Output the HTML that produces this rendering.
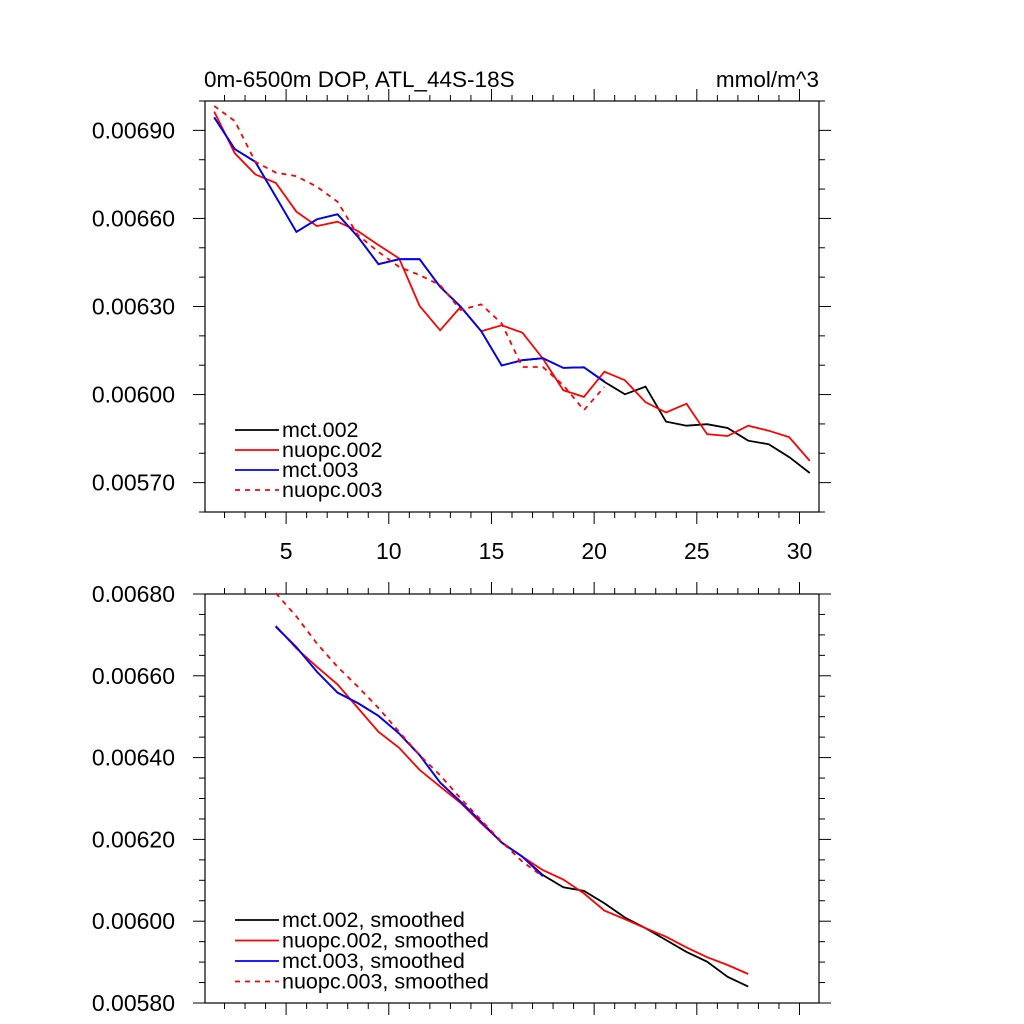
<!DOCTYPE html>
<html><head><meta charset="utf-8"><style>
html,body{margin:0;padding:0;background:#fff;}
svg{display:block;font-family:"Liberation Sans",sans-serif;}
</style></head><body>
<svg id="chart" width="1024" height="1024" viewBox="0 0 1024 1024" xmlns="http://www.w3.org/2000/svg">
<rect width="1024" height="1024" fill="#fff"/>
<text x="204" y="87" font-size="22.5">0m-6500m DOP, ATL_44S-18S</text>
<text x="819" y="87" font-size="22.5" text-anchor="end">mmol/m^3</text>
<g id="top"></g><g id="bot"></g>
</svg>
<script>
// ---- data ----
const xTop = [1.5,2.5,3.5,4.5,5.5,6.5,7.5,8.5,9.5,10.5,11.5,12.5,13.5,14.5,15.5,16.5,17.5,18.5,19.5,20.5,21.5,22.5,23.5,24.5,25.5,26.5,27.5,28.5,29.5,30.5];
const mct003 = [0.006944,0.006836,0.006793,0.006674,0.006554,0.006597,0.006614,0.006537,0.006444,0.006461,0.006461,0.006367,0.006299,0.006216,0.006099,0.006117,0.006124,0.006091,0.006093,0.006045];
const mct002 = [0.006944,0.006836,0.006793,0.006674,0.006554,0.006597,0.006614,0.006537,0.006444,0.006461,0.006461,0.006367,0.006299,0.006216,0.006099,0.006117,0.006124,0.006091,0.006093,0.006043,0.006001,0.006027,0.005908,0.005894,0.005899,0.005886,0.005843,0.005831,0.005787,0.005733];
const nuopc002 = [0.006964,0.006822,0.00675,0.006721,0.006623,0.006574,0.006589,0.006557,0.006509,0.006464,0.006302,0.006219,0.006299,0.006216,0.006236,0.006211,0.006123,0.006015,0.005992,0.006078,0.006049,0.005974,0.005939,0.005969,0.005865,0.005859,0.005894,0.005877,0.005855,0.005774];
const nuopc003 = [0.006983,0.006932,0.006793,0.006756,0.006744,0.006708,0.006657,0.006543,0.006486,0.006435,0.006407,0.006373,0.006288,0.006307,0.006242,0.006094,0.006094,0.006032,0.005947,0.006026];
const xBot = [4.5,5.5,6.5,7.5,8.5,9.5,10.5,11.5,12.5,13.5,14.5,15.5,16.5,17.5,18.5,19.5,20.5,21.5,22.5,23.5,24.5,25.5,26.5,27.5];
const mct003s = [0.00672,0.00667,0.00661,0.006559,0.006533,0.006502,0.006459,0.006406,0.006339,0.006292,0.006243,0.006192,0.006158,0.00611];
const mct002s = [0.00672,0.00667,0.00661,0.006559,0.006533,0.006502,0.006459,0.006406,0.006339,0.006292,0.006243,0.006192,0.006158,0.006113,0.006083,0.006074,0.006044,0.006009,0.005983,0.005954,0.005925,0.005901,0.005864,0.00584];
const nuopc002s = [0.006722,0.006667,0.006622,0.006579,0.006521,0.006463,0.006424,0.00637,0.006329,0.006289,0.006239,0.006193,0.006158,0.006125,0.006102,0.006068,0.006026,0.006005,0.005983,0.005962,0.005936,0.005912,0.005893,0.005871];
const nuopc003s = [0.006802,0.006745,0.006679,0.006622,0.006573,0.006521,0.006463,0.006406,0.006357,0.0063,0.006247,0.006194,0.006146,0.006109];
const xTicks = [5,10,15,20,25,30];
const yTicksTop = [0.0057,0.006,0.0063,0.0066,0.0069];
const yTicksBot = [0.0058,0.006,0.0062,0.0064,0.0066,0.0068];
const legTop = ["mct.002","nuopc.002","mct.003","nuopc.003"];
const legBot = ["mct.002, smoothed","nuopc.002, smoothed","mct.003, smoothed","nuopc.003, smoothed"];

const NS="http://www.w3.org/2000/svg";
function mk(parent,tag,attrs){const e=document.createElementNS(NS,tag);for(const k in attrs)e.setAttribute(k,attrs[k]);parent.appendChild(e);return e;}
const L=205,R=819,X0=1.05,X1=30.95;
const sx=v=>L+(v-X0)/(X1-X0)*(R-L);

function panel(g,T,B,Y0,Y1,yTicks,minorStep,showX,series,leg,legY,legDy){
  const sy=v=>B-(v-Y0)/(Y1-Y0)*(B-T);
  const fr=mk(g,'rect',{x:L,y:T,width:R-L,height:B-T,fill:'none',stroke:'#000','stroke-width':1.2});
  
  for(let v=1;v<=31;v++){const x=sx(v);if(x<L-0.5||x>R+0.5)continue;const maj=v%5===0,len=maj?12:6;
    mk(g,'line',{x1:x,x2:x,y1:B,y2:B+len,stroke:'#000','stroke-width':1});
    mk(g,'line',{x1:x,x2:x,y1:T,y2:T-len,stroke:'#000','stroke-width':1});}
  if(showX) xTicks.forEach(v=>{const t=mk(g,'text',{x:sx(v),y:B+47,'font-size':23,'text-anchor':'middle'});t.textContent=v;
    });
  const n=Math.round((Y1-Y0)/minorStep);
  for(let i=0;i<=n;i++){const v=Y0+i*minorStep;const y=sy(v);const maj=yTicks.some(t=>Math.abs(t-v)<1e-9);const len=maj?12:6;
    mk(g,'line',{x1:L,x2:L-len,y1:y,y2:y,stroke:'#000','stroke-width':1});
    mk(g,'line',{x1:R,x2:R+len,y1:y,y2:y,stroke:'#000','stroke-width':1});}
  yTicks.forEach(v=>{const t=mk(g,'text',{x:175,y:sy(v)+8,'font-size':23,'text-anchor':'end'});t.textContent=v.toFixed(5);
    });
  series.forEach((s,si)=>{
    const pts=s.y.map((v,i)=>sx(s.x[i]).toFixed(1)+','+sy(v).toFixed(1)).join(' ');
    const p=mk(g,'polyline',{points:pts,fill:'none',stroke:s.c,'stroke-width':1.8,'stroke-dasharray':s.d?'5,5':'none'});
    
    const yy=legY+si*legDy;
    const ll=mk(g,'line',{x1:235,x2:279,y1:yy,y2:yy,stroke:s.c,'stroke-width':1.8,'stroke-dasharray':s.d?'5,5':'none'});
    
    const tt=mk(g,'text',{x:282,y:yy+7,'font-size':21.5});tt.textContent=leg[si];
    
  });
}
panel(document.getElementById('top'),101,512,0.0056,0.0070,yTicksTop,0.0001,true,[
 {x:xTop,y:mct002,c:'#000',n:'mct002'},
 {x:xTop,y:nuopc002,c:'#f00',n:'nuopc002'},
 {x:xTop,y:mct003,c:'#00f',n:'mct003'},
 {x:xTop,y:nuopc003,c:'#f00',d:1,n:'nuopc003'}],legTop,430,20);
panel(document.getElementById('bot'),594,1003,0.0058,0.0068,yTicksBot,0.00005,false,[
 {x:xBot,y:mct002s,c:'#000',n:'mct002-smoothed'},
 {x:xBot,y:nuopc002s,c:'#f00',n:'nuopc002-smoothed'},
 {x:xBot,y:mct003s,c:'#00f',n:'mct003-smoothed'},
 {x:xBot,y:nuopc003s,c:'#f00',d:1,n:'nuopc003-smoothed'}],legBot,920,20.5);
</script>
</body></html>
